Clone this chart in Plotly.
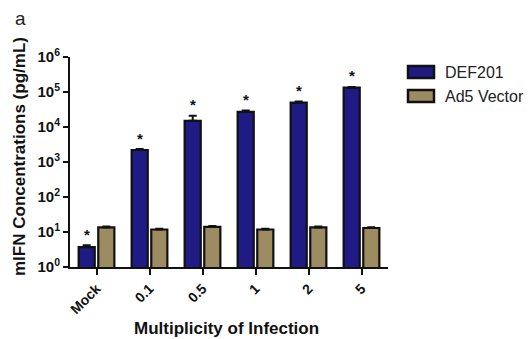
import plotly.graph_objects as go
import math

categories = ["Mock", "0.1", "0.5", "1", "2", "5"]
def201 = [3.7, 2200, 15000, 27000, 50000, 133000]
def201_err = [0.5, 150, 6000, 2500, 3500, 6000]
ad5 = [13.5, 11.8, 14.0, 11.8, 13.5, 13.0]
ad5_err = [0.8, 0.6, 0.8, 0.6, 0.9, 0.7]
series_names = ["DEF201", "Ad5 Vector"]
colors = ["#1f1a84", "#9d8c62"]
ytick_vals = [1, 10, 100, 1000, 10000, 100000, 1000000]
ytick_text = ["10<sup>%d</sup>" % i for i in range(7)]

L, R, T, B = 70, 142, 57, 72
W, H = 530, 339
pw, ph = W - L - R, H - T - B
def px(x): return (x - L) / pw
def py(y): return (H - B - y) / ph

FONT = "Liberation Sans, Arial"
fig = go.Figure()
for name, vals, errs, col in [(series_names[0], def201, def201_err, colors[0]),
                              (series_names[1], ad5, ad5_err, colors[1])]:
    fig.add_trace(go.Bar(
        x=categories, y=vals, name=name,
        marker=dict(color=col, line=dict(color="#111", width=2.2)),
        error_y=dict(type="data", array=errs, symmetric=False, arrayminus=[0]*len(errs),
                     color="#111", thickness=2, width=4),
        showlegend=False,
    ))

# significance stars above DEF201 bars
for i, (v, e) in enumerate(zip(def201, def201_err)):
    fig.add_annotation(x=i, y=math.log10(v + e), xref="x", yref="y", text="<b>*</b>",
                       showarrow=False, xshift=-10, yshift=11,
                       font=dict(size=15, color="#111", family=FONT))

# manual legend
for i, (name, col) in enumerate(zip(series_names, colors)):
    y0 = 66 + i * 24
    fig.add_shape(type="rect", xref="paper", yref="paper",
                  x0=px(408), x1=px(434), y0=py(y0 + 12), y1=py(y0),
                  fillcolor=col, line=dict(color="#111", width=2.5))
    fig.add_annotation(xref="paper", yref="paper", x=px(443), y=py(y0 + 6),
                       text=name, showarrow=False, xanchor="left", yanchor="middle",
                       font=dict(size=16, color="#222", family=FONT))

fig.add_annotation(xref="paper", yref="paper", x=px(13), y=py(18), text="a",
                   showarrow=False, xanchor="left", yanchor="middle",
                   font=dict(size=19, color="#222", family=FONT))

# axis titles as annotations for exact placement
fig.add_annotation(xref="paper", yref="paper", x=px(226), y=py(328),
                   text="<b>Multiplicity of Infection</b>", showarrow=False,
                   xanchor="center", yanchor="middle",
                   font=dict(size=17, color="#111", family=FONT))
fig.add_annotation(xref="paper", yref="paper", x=px(19), y=py(157),
                   text="<b>mIFN Concentrations (pg/mL)</b>", showarrow=False, textangle=-90,
                   xanchor="center", yanchor="middle",
                   font=dict(size=17, color="#111", family=FONT))

fig.update_layout(
    width=W, height=H,
    margin=dict(l=L, r=R, t=T, b=B, pad=0),
    paper_bgcolor="white", plot_bgcolor="white",
    barmode="group", bargap=0.26, bargroupgap=0.18,
    font=dict(family=FONT, color="#111"),
    xaxis=dict(
        automargin=False,
        showline=True, linecolor="#111", linewidth=2,
        ticks="outside", ticklen=6, tickwidth=2, tickcolor="#111",
        tickangle=-45, tickfont=dict(size=14, color="#111"),
        tickprefix="<b>", ticksuffix="</b>",
        showgrid=False, zeroline=False,
    ),
    yaxis=dict(
        automargin=False,
        type="log", range=[0, 6],
        showline=True, linecolor="#111", linewidth=2,
        ticks="outside", ticklen=5, tickwidth=2, tickcolor="#111",
        tickvals=ytick_vals, ticktext=["<b>%s</b>" % t for t in ytick_text],
        tickfont=dict(size=15, color="#111"),
        showgrid=False, zeroline=False,
    ),
)

fig.write_html("out.html", config={"displayModeBar": False},
               post_script="document.body.style.margin='0';")
